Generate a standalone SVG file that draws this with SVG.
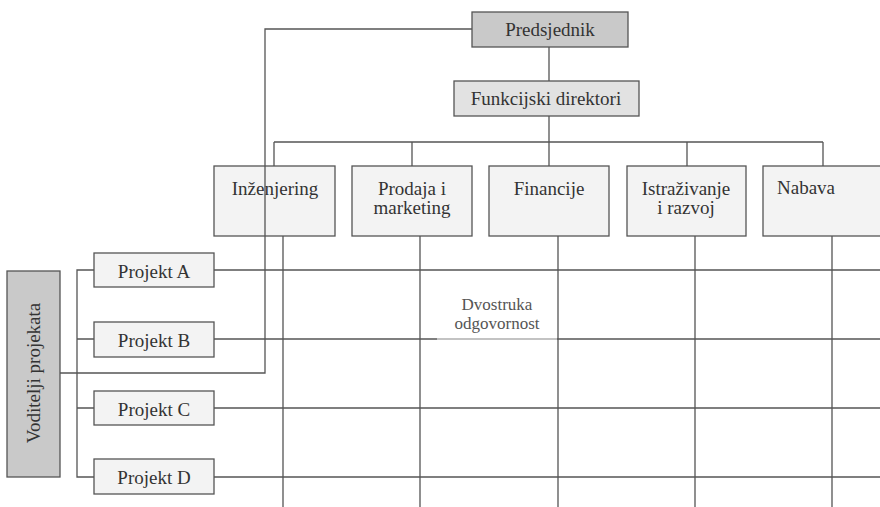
<svg xmlns="http://www.w3.org/2000/svg" width="880" height="507" viewBox="0 0 880 507">
<style>
.bx{stroke:#555;stroke-width:1.3}
.dark{fill:#c9c9c9}
.mid{fill:#e2e2e2}
.lite{fill:#f3f3f3}
.t{font-family:"Liberation Serif","Times New Roman",serif;font-size:19px;fill:#333;text-anchor:middle}
.s{font-size:17px;fill:#555}
.c{stroke:#555;stroke-width:1.3;fill:none}
</style>
<rect width="880" height="507" fill="#fff"/>
<g id="predsjednik"><rect class="bx dark" x="472" y="12" width="156" height="35"/><text class="t" x="550" y="36">Predsjednik</text></g>
<g id="funkcijski"><rect class="bx mid" x="454" y="81" width="185" height="35"/><text class="t" x="546" y="105">Funkcijski direktori</text></g>
<g id="inzenjering"><rect class="bx lite" x="214" y="166" width="121" height="70"/><text class="t" x="275" y="195">Inženjering</text></g>
<g id="prodaja"><rect class="bx lite" x="352" y="166" width="120" height="70"/><text class="t" x="412" y="195">Prodaja i</text><text class="t" x="412" y="214">marketing</text></g>
<g id="financije"><rect class="bx lite" x="489" y="166" width="120" height="70"/><text class="t" x="549" y="195">Financije</text></g>
<g id="istrazivanje"><rect class="bx lite" x="627" y="166" width="119" height="70"/><text class="t" x="686" y="195">Istraživanje</text><text class="t" x="686" y="214">i razvoj</text></g>
<g id="nabava"><rect class="bx lite" x="763" y="166" width="130" height="70"/><text class="t" x="806" y="194">Nabava</text></g>
<g id="voditelji"><rect class="bx dark" x="7" y="271" width="53" height="206"/><text class="t" transform="translate(40 373) rotate(-90)">Voditelji projekata</text></g>
<g id="projektA"><rect class="bx lite" x="94" y="253" width="120" height="34"/><text class="t" x="154" y="278">Projekt A</text></g>
<g id="projektB"><rect class="bx lite" x="94" y="322" width="120" height="35"/><text class="t" x="154" y="347">Projekt B</text></g>
<g id="projektC"><rect class="bx lite" x="94" y="391" width="120" height="34"/><text class="t" x="154" y="416">Projekt C</text></g>
<g id="projektD"><rect class="bx lite" x="94" y="459" width="120" height="35"/><text class="t" x="154" y="484">Projekt D</text></g>
<g id="connectors">
<path class="c" d="M549 47V81M549 116V142M274 142H823M274 142V166M412 142V166M549 142V166M687 142V166M823 142V166"/>
<path class="c" d="M472 29H265V373H60"/>
<path class="c" d="M283 236V507M420 236V507M558 236V507M695 236V507M832 236V507"/>
<path class="c" d="M214 270H880M214 339H437M557 339H880M214 408H880M214 477H880"/>
<path d="M437 339H557" stroke="#888" stroke-width="1.1"/>
<path class="c" d="M94 270H77V477H94M77 339H94M77 408H94"/>
</g>
<g id="label"><text class="t s" x="497" y="310">Dvostruka</text><text class="t s" x="497" y="329">odgovornost</text></g>
</svg>
